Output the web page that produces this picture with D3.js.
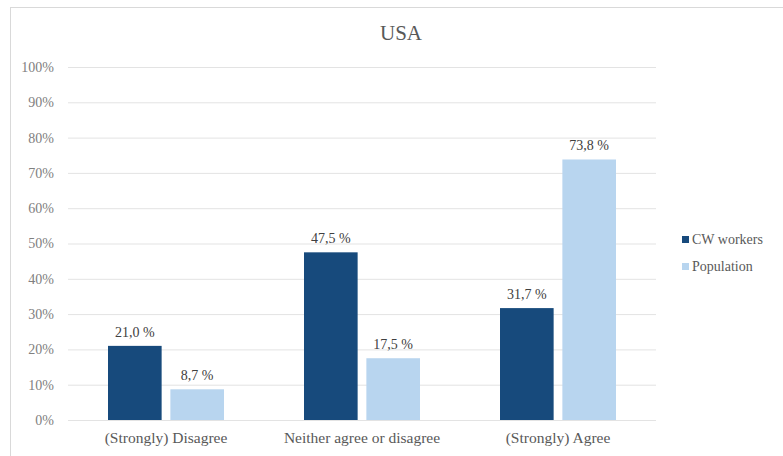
<!DOCTYPE html>
<html>
<head>
  <meta charset="utf-8">
  <title>USA</title>
  <style>
    body { margin: 0; background: white; }
  </style>
  <script src="https://d3js.org/d3.v7.min.js"></script>
</head>
<body>
  <svg id="chart" width="783" height="456"></svg>
  <script>
    const categories = ["(Strongly) Disagree", "Neither agree or disagree", "(Strongly) Agree"];
    const seriesNames = ["CW workers", "Population"];
    const cwWorkers = [21.0, 47.5, 31.7];
    const population = [8.7, 17.5, 73.8];
    const yTicks = [0, 10, 20, 30, 40, 50, 60, 70, 80, 90, 100];
    const colors = ["#174a7c", "#b8d5ef"];
    const FONT = "Liberation Serif";

    const svg = d3.select("#chart");
    const margin = {top: 67, left: 68, right: 127, bottom: 36};
    const width = 783 - margin.left - margin.right,
          height = 456 - margin.top - margin.bottom;

    // chart frame (right and bottom edges fall outside the picture)
    svg.append("rect")
      .attr("x", 10.5).attr("y", 7.5)
      .attr("width", 800).attr("height", 480)
      .attr("fill", "none").attr("stroke", "#d9d9d9");

    const g = svg.append("g").attr("transform", `translate(${margin.left},${margin.top})`);

    const x0 = d3.scaleBand().domain(categories).range([0, width]);
    const x1 = d3.scaleBand().domain(seriesNames).range([40, x0.bandwidth() - 40]).paddingInner(0.14);
    const y = d3.scaleLinear().domain([0, 100]).range([height, 0]);

    // gridlines
    g.append("g").selectAll("line")
      .data(yTicks).enter().append("line")
      .attr("x1", 0).attr("x2", width)
      .attr("y1", d => y(d) + 0.5).attr("y2", d => y(d) + 0.5)
      .attr("stroke", "#e3e3e3").attr("stroke-width", 1);

    // y axis labels
    const yAxis = g.append("g")
      .call(d3.axisLeft(y).tickValues(yTicks).tickFormat(d => d + "%").tickSize(0).tickPadding(14))
      .attr("font-family", FONT);
    yAxis.select(".domain").remove();
    yAxis.selectAll("text")
      .attr("fill", "#808080")
      .style("font-family", FONT)
      .style("font-size", "14px");

    // x axis labels
    const xAxis = g.append("g")
      .attr("transform", `translate(0,${height})`)
      .call(d3.axisBottom(x0).tickSize(0).tickPadding(12))
      .attr("font-family", FONT);
    xAxis.select(".domain").remove();
    xAxis.selectAll("text")
      .attr("fill", "#595959")
      .style("font-family", FONT)
      .style("font-size", "15.5px");

    const rows = categories.map((c, i) => ({
      cat: c,
      values: [
        {name: seriesNames[0], v: cwWorkers[i]},
        {name: seriesNames[1], v: population[i]}
      ]
    }));

    const groups = g.selectAll(".grp").data(rows).enter().append("g")
      .attr("transform", d => `translate(${x0(d.cat)},0)`);

    groups.selectAll("rect").data(d => d.values).enter().append("rect")
      .attr("x", d => x1(d.name))
      .attr("width", x1.bandwidth())
      .attr("y", d => y(d.v))
      .attr("height", d => y(0) - y(d.v))
      .attr("fill", (d, i) => colors[i]);

    // value labels
    groups.selectAll("text.val").data(d => d.values).enter().append("text")
      .attr("class", "val")
      .attr("x", d => x1(d.name) + x1.bandwidth() / 2)
      .attr("y", d => y(d.v) - 9)
      .attr("text-anchor", "middle")
      .attr("fill", "#404040")
      .style("font-family", FONT)
      .style("font-size", "14px")
      .text(d => d.v.toFixed(1).replace(".", ",") + " %");

    // title
    svg.append("text")
      .attr("x", 401).attr("y", 40)
      .attr("text-anchor", "middle")
      .attr("fill", "#595959")
      .style("font-family", FONT)
      .style("font-size", "21px")
      .text("USA");

    // legend
    const legend = svg.append("g").attr("transform", "translate(682,236)");
    seriesNames.forEach((s, i) => {
      const row = legend.append("g").attr("transform", `translate(0,${i * 27})`);
      row.append("rect").attr("width", 7).attr("height", 7).attr("fill", colors[i]);
      row.append("text")
        .attr("x", 10).attr("y", 8)
        .attr("fill", "#595959")
        .style("font-family", FONT)
        .style("font-size", "14px")
        .text(s);
    });
  </script>
</body>
</html>
